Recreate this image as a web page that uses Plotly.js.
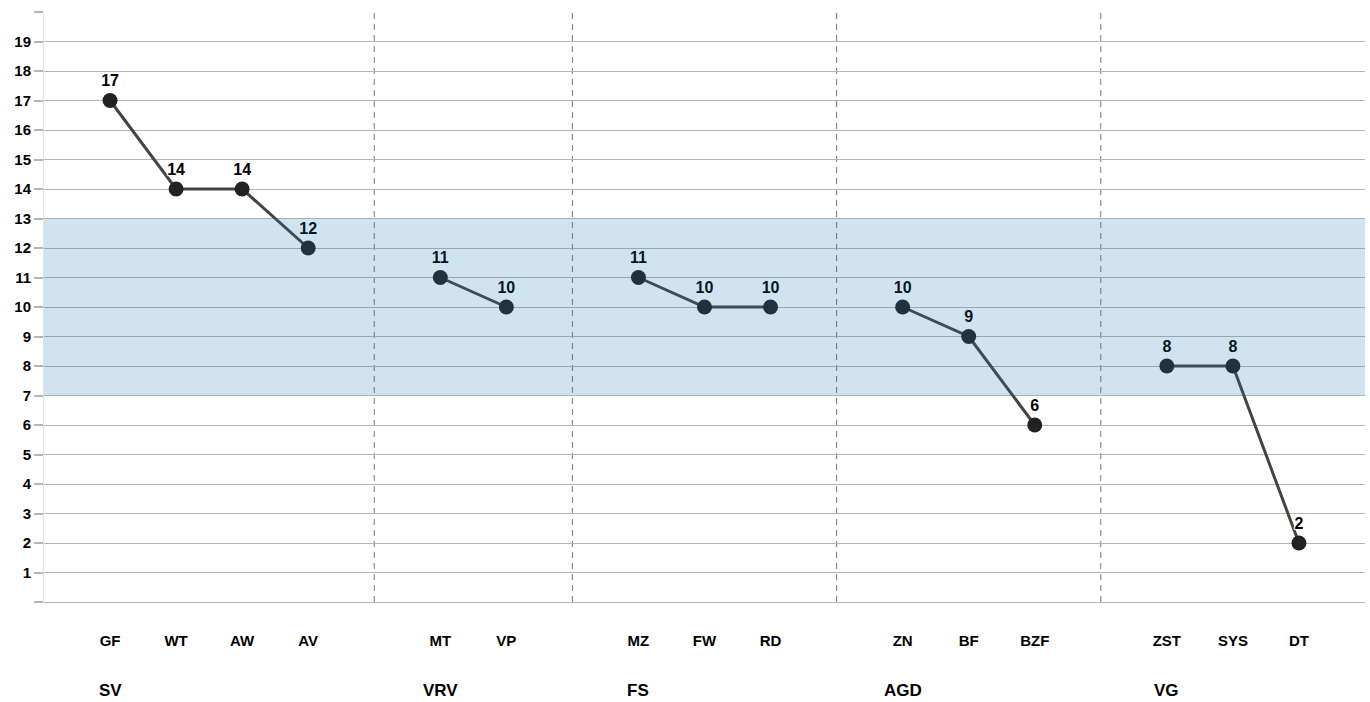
<!DOCTYPE html>
<html>
<head>
<meta charset="utf-8">
<script src="https://cdn.plot.ly/plotly-3.0.1.min.js"></script>
<style>html,body{margin:0;padding:0;background:#fff;}#chart{width:1370px;height:702px;}</style>
</head>
<body>
<div id="chart"></div>
<script>
// Data
const groups = ["SV", "VRV", "FS", "AGD", "VG"];
const categories = [
  ["GF", "WT", "AW", "AV"],
  ["MT", "VP"],
  ["MZ", "FW", "RD"],
  ["ZN", "BF", "BZF"],
  ["ZST", "SYS", "DT"]
];
const values = [
  [17, 14, 14, 12],
  [11, 10],
  [11, 10, 10],
  [10, 9, 6],
  [8, 8, 2]
];
const bandLow = 7;
const bandHigh = 13;
const yTicks = [0,1,2,3,4,5,6,7,8,9,10,11,12,13,14,15,16,17,18,19,20];

// Build positions (one empty slot between groups)
const traces = [];
const tickvals = [], ticktext = [], groupStarts = [], separators = [];
let pos = 0;
groups.forEach((g, gi) => {
  const xs = [];
  groupStarts.push(pos);
  categories[gi].forEach(c => { xs.push(pos); tickvals.push(pos); ticktext.push(c); pos++; });
  if (gi < groups.length - 1) { separators.push(pos); pos++; }
  traces.push({
    type: 'scatter', mode: 'lines+markers+text',
    x: xs, y: values[gi],
    text: values[gi].map(String),
    textposition: 'top center',
    textfont: {family: 'Liberation Sans, Arial, sans-serif', size: 16, color: '#000', weight: 'bold',
      shadow: '1px 1px 1px #fff, -1px -1px 1px #fff, 1px -1px 1px #fff, -1px 1px 1px #fff, 0 0 2px #fff'},
    line: {color: '#444', width: 3},
    marker: {color: '#222', size: 15},
    hoverinfo: 'none', showlegend: false, cliponaxis: false
  });
});

const shapes = separators.map(s => ({
  type: 'line', xref: 'x', yref: 'paper', x0: s, x1: s, y0: 0, y1: 1,
  line: {color: '#777', width: 1, dash: '6px,5px'}, layer: 'below'
}));
shapes.push({
  type: 'rect', xref: 'paper', yref: 'y', x0: 0, x1: 1, y0: bandLow, y1: bandHigh,
  fillcolor: 'rgba(20,120,180,0.2)', line: {width: 0}, layer: 'above'
});

const annotations = groups.map((g, gi) => ({
  xref: 'x', yref: 'paper', x: groupStarts[gi], y: 0, yshift: -88,
  text: '<b>' + g + '</b>', showarrow: false, xanchor: 'center', yanchor: 'middle',
  font: {family: 'Liberation Sans, Arial, sans-serif', size: 17, color: '#000'}
}));

const layout = {
  width: 1370, height: 702,
  margin: {l: 44, r: 5, t: 12, b: 100},
  paper_bgcolor: '#fff', plot_bgcolor: '#fff',
  showlegend: false,
  xaxis: {
    range: [-1, pos], tickvals: tickvals, ticktext: ticktext,
    showgrid: false, zeroline: false, showline: false, ticks: '',
    ticklabelstandoff: 28,
    tickfont: {family: 'Liberation Sans, Arial, sans-serif', size: 15, color: '#000', weight: 600}
  },
  yaxis: {
    range: [0, 20], tickvals: yTicks,
    ticktext: yTicks.map(v => (v === 0 || v === 20) ? '' : String(v)),
    showgrid: true, gridcolor: '#b5b5b5', gridwidth: 1,
    zeroline: true, zerolinecolor: '#b5b5b5', zerolinewidth: 1,
    showline: true, linecolor: '#e2e2e2', linewidth: 1,
    ticks: 'outside', ticklen: 9, tickcolor: '#b5b5b5', tickwidth: 2,
    tickfont: {family: 'Liberation Sans, Arial, sans-serif', size: 15, color: '#000', weight: 600}
  },
  shapes: shapes,
  annotations: annotations
};

Plotly.newPlot('chart', traces, layout, {displayModeBar: false, staticPlot: true});
</script>
</body>
</html>
